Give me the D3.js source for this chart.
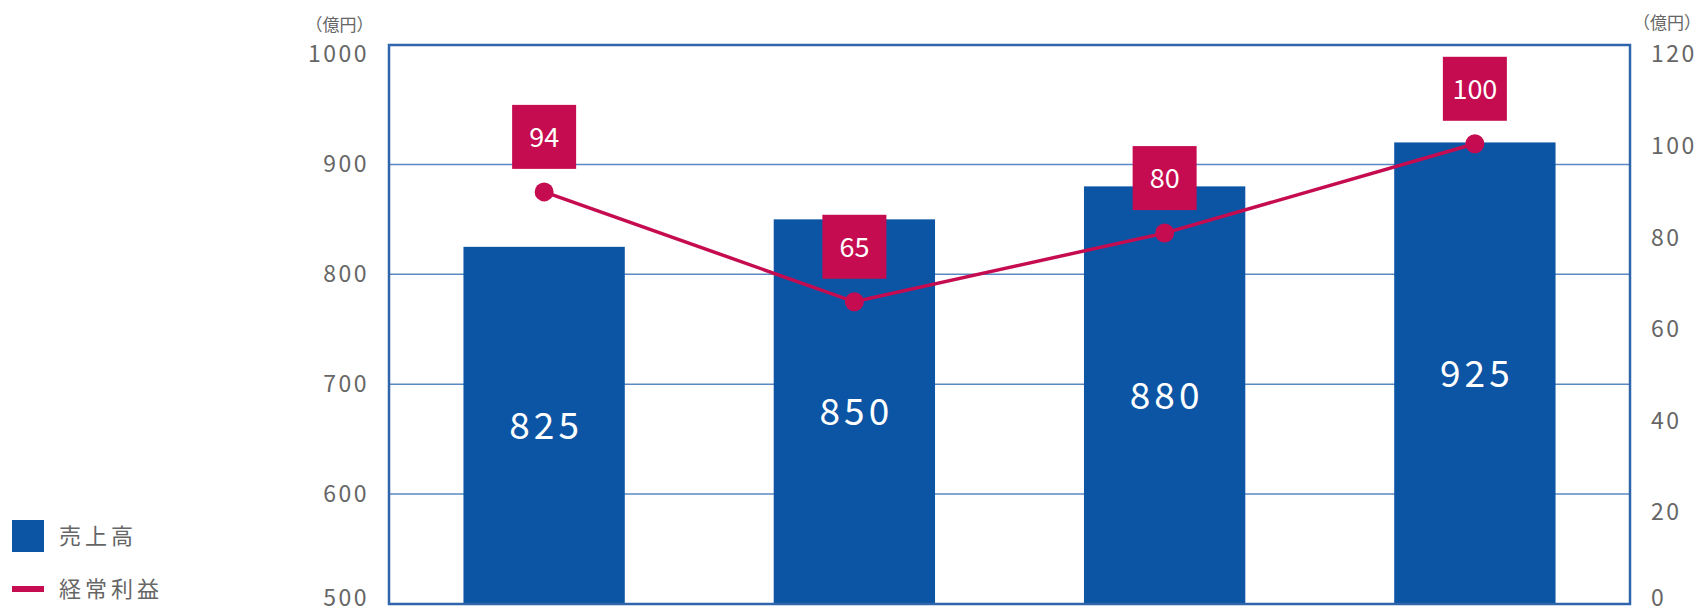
<!DOCTYPE html>
<html>
<head>
<meta charset="utf-8">
<script src="https://cdn.jsdelivr.net/npm/d3@7"></script>
<style>
  body { margin: 0; background: #fff; }
  svg { display: block; font-family: "Noto Sans CJK JP", "Noto Sans", sans-serif; }
</style>
</head>
<body>
<div id="chart-area"></div>
<script>
// Data
var periods = ["1", "2", "3", "4"];
var sales = [825, 850, 880, 920];              // bar heights on left axis
var salesLabels = ["825", "850", "880", "925"];
var profit = [90, 66, 81, 100.5];              // point heights on right axis
var profitLabels = ["94", "65", "80", "100"];
var leftTicks = [500, 600, 700, 800, 900, 1000];
var rightTicks = [0, 20, 40, 60, 80, 100, 120];
var gridTicks = [600, 700, 800, 900];
var unitLabel = "（億円）";
var legendNames = ["売上高", "経常利益"];

var BLUE = "#0c55a5", RED = "#c60c50", GREY = "#666";

var W = 1701, H = 613;
var plot = { left: 389, right: 1630, top: 45, bottom: 604 };

var svg = d3.select("#chart-area").append("svg")
    .attr("width", W)
    .attr("height", H);

// Scales
var x = d3.scaleBand().domain(periods)
    .range([plot.left, plot.right])
    .paddingInner(0.48).paddingOuter(0.24);
var yL = d3.scaleLinear().domain([500, 1000]).range([plot.bottom, 54.5]);
var yR = d3.scaleLinear().domain([0, 120]).range([plot.bottom, 54.5]);

// Gridlines
svg.append("g").selectAll("line")
    .data(gridTicks).enter().append("line")
    .attr("x1", plot.left).attr("x2", plot.right)
    .attr("y1", d => yL(d)).attr("y2", d => yL(d))
    .attr("stroke", "#5b89c4").attr("stroke-width", 1.5);

// Bars
svg.append("g").selectAll("rect")
    .data(sales).enter().append("rect")
    .attr("x", (d, i) => x(periods[i]))
    .attr("width", x.bandwidth())
    .attr("y", d => yL(d))
    .attr("height", d => yL(500) - yL(d))
    .attr("fill", BLUE);

// Bar value labels (centred in the bar)
svg.append("g").selectAll("text")
    .data(sales).enter().append("text")
    .attr("x", (d, i) => x(periods[i]) + x.bandwidth() / 2 + 2)
    .attr("y", d => (yL(d) + yL(500)) / 2)
    .attr("dy", "0.36em")
    .attr("text-anchor", "middle")
    .attr("fill", "#fff")
    .style("font-size", "37px")
    .style("letter-spacing", "4px")
    .text((d, i) => salesLabels[i]);

// Plot border
svg.append("rect")
    .attr("x", plot.left).attr("y", plot.top)
    .attr("width", plot.right - plot.left)
    .attr("height", plot.bottom - plot.top)
    .attr("fill", "none")
    .attr("stroke", "#2f65ab").attr("stroke-width", 2.5);

// Profit line + points
var cx = (d, i) => x(periods[i]) + x.bandwidth() / 2;
var line = d3.line()
    .x((d, i) => cx(d, i))
    .y(d => yR(d));

svg.append("path")
    .attr("d", line(profit))
    .attr("fill", "none")
    .attr("stroke", RED)
    .attr("stroke-width", 3.5);

svg.append("g").selectAll("circle")
    .data(profit).enter().append("circle")
    .attr("cx", cx)
    .attr("cy", d => yR(d))
    .attr("r", 9.5)
    .attr("fill", RED);

// Profit callout boxes
var boxes = svg.append("g").selectAll("g")
    .data(profit).enter().append("g")
    .attr("transform", (d, i) => "translate(" + cx(d, i) + "," + (yR(d) - 23 - 32) + ")");
boxes.append("rect")
    .attr("x", -32).attr("y", -32)
    .attr("width", 64).attr("height", 64)
    .attr("fill", RED);
boxes.append("text")
    .attr("text-anchor", "middle")
    .attr("dy", "0.36em")
    .attr("fill", "#fff")
    .style("font-size", "27px")
    .text((d, i) => profitLabels[i]);

// Axes
var leftAxis = svg.append("g")
    .attr("transform", "translate(" + plot.left + ",0)")
    .call(d3.axisLeft(yL).tickValues(leftTicks).tickFormat(d3.format("d"))
        .tickSize(0).tickPadding(20));
var rightAxis = svg.append("g")
    .attr("transform", "translate(" + plot.right + ",0)")
    .call(d3.axisRight(yR).tickValues(rightTicks).tickFormat(d3.format("d"))
        .tickSize(0).tickPadding(21));
[leftAxis, rightAxis].forEach(a => {
    a.select(".domain").remove();
    a.selectAll("text")
        .attr("fill", GREY)
        .attr("dy", (d, i) => i === 0 ? "0.08em" : "0.32em")
        .style("font-family", "\"Noto Sans CJK JP\", sans-serif")
        .style("font-size", "23px")
        .style("letter-spacing", "2.5px");
});

// Unit labels
svg.append("text")
    .attr("x", 339.5).attr("y", 31)
    .attr("text-anchor", "middle")
    .attr("fill", GREY)
    .style("font-size", "17px")
    .text(unitLabel);
svg.append("text")
    .attr("x", W).attr("y", 29)
    .attr("text-anchor", "end")
    .attr("fill", GREY)
    .style("font-size", "17px")
    .text(unitLabel);

// Legend
var legend = svg.append("g").attr("transform", "translate(12,520)");
legend.append("rect")
    .attr("width", 32).attr("height", 32)
    .attr("fill", BLUE);
legend.append("rect")
    .attr("y", 66).attr("width", 32).attr("height", 6)
    .attr("fill", RED);
legend.selectAll("text")
    .data(legendNames).enter().append("text")
    .attr("x", 47)
    .attr("y", (d, i) => 16 + i * 53)
    .attr("dy", "0.36em")
    .attr("fill", GREY)
    .style("font-size", "22px")
    .style("letter-spacing", "4px")
    .text(d => d);
</script>
</body>
</html>
